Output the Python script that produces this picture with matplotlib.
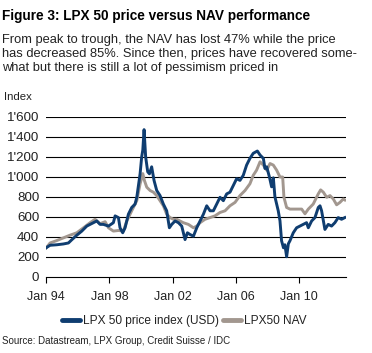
import matplotlib
matplotlib.use("Agg")
import matplotlib.pyplot as plt
from matplotlib.lines import Line2D

plt.rcParams["font.family"] = ["Liberation Sans", "DejaVu Sans"]

# decimal years, values
price_x = [1994.00, 1994.25, 1994.67, 1995.09, 1995.41, 1995.62, 1995.94, 1996.25,
           1996.57, 1996.78, 1997.20, 1997.41, 1997.62, 1997.94, 1998.25, 1998.36,
           1998.57, 1998.67, 1998.84, 1998.99, 1999.20, 1999.41, 1999.62, 1999.73,
           1999.94, 2000.04, 2000.11, 2000.19, 2000.29, 2000.42, 2000.53, 2000.67,
           2000.82, 2000.99, 2001.20, 2001.41, 2001.62, 2001.79, 2001.94, 2002.15,
           2002.36, 2002.57, 2002.78, 2002.93, 2003.09, 2003.31, 2003.52, 2003.73,
           2003.94, 2004.15, 2004.36, 2004.57, 2004.78, 2004.99, 2005.20, 2005.41,
           2005.62, 2005.83, 2006.04, 2006.25, 2006.46, 2006.67, 2006.88, 2007.09,
           2007.35, 2007.52, 2007.73, 2007.83, 2007.94, 2008.11, 2008.25, 2008.36,
           2008.46, 2008.67, 2008.78, 2008.88, 2009.00, 2009.09, 2009.20, 2009.31,
           2009.41, 2009.62, 2009.83, 2010.04, 2010.25, 2010.46, 2010.57, 2010.78,
           2010.99, 2011.20, 2011.31, 2011.41, 2011.62, 2011.83, 2012.04, 2012.25,
           2012.46, 2012.67, 2012.88]
price_y = [290, 315, 320, 328, 338, 370, 416, 456,
           507, 524, 558, 524, 524, 507, 541, 609,
           592, 490, 440, 490, 626, 693, 727, 795,
           1032, 1200, 1268, 1472, 1200, 1050, 1030, 1100,
           964, 863, 812, 727, 660, 490, 524, 558,
           541, 507, 372, 440, 423, 406, 490, 558,
           626, 710, 660, 660, 727, 795, 761, 829,
           846, 913, 981, 964, 1015, 1117, 1184, 1235,
           1258, 1218, 1184, 1083, 1100, 1000, 900, 990,
           800, 660, 560, 360, 290, 320, 200, 330,
           360, 440, 490, 507, 524, 541, 490, 558,
           592, 693, 710, 660, 473, 524, 507, 541,
           592, 575, 592]

nav_x = [1994.00, 1994.25, 1994.67, 1995.09, 1995.51, 1995.94, 1996.36, 1996.78,
         1997.09, 1997.41, 1997.73, 1997.94, 1998.25, 1998.57, 1998.88, 1999.10,
         1999.41, 1999.73, 1999.94, 2000.11, 2000.21, 2000.36, 2000.57, 2000.78,
         2000.99, 2001.20, 2001.41, 2001.62, 2001.83, 2002.04, 2002.25, 2002.46,
         2002.67, 2002.99, 2003.31, 2003.52, 2003.73, 2004.04, 2004.36, 2004.67,
         2004.99, 2005.31, 2005.62, 2005.94, 2006.25, 2006.57, 2006.88, 2007.09,
         2007.30, 2007.52, 2007.73, 2007.94, 2008.15, 2008.36, 2008.57, 2008.78,
         2008.95, 2009.03, 2009.20, 2009.41, 2009.83, 2010.15, 2010.36, 2010.57,
         2010.88, 2011.20, 2011.35, 2011.52, 2011.73, 2011.94, 2012.15, 2012.36,
         2012.57, 2012.78, 2012.88]
nav_y = [288, 338, 362, 389, 416, 440, 490, 541,
         575, 531, 551, 490, 457, 463, 457, 558,
         660, 761, 930, 1032, 964, 896, 863, 846,
         812, 761, 710, 626, 592, 575, 575, 558,
         541, 524, 490, 507, 541, 575, 592, 609,
         643, 660, 710, 744, 812, 863, 930, 1015,
         1066, 1150, 1117, 1066, 1133, 1117, 1066, 998,
         998, 795, 693, 677, 677, 677, 630, 677,
         727, 829, 869, 846, 795, 812, 778, 720,
         744, 778, 768]

y_ticks = [0, 200, 400, 600, 800, 1000, 1200, 1400, 1600]
y_labels = ["0", "200", "400", "600", "800", "1'000", "1'200", "1'400", "1'600"]
x_ticks = [1994, 1998, 2002, 2006, 2010]
x_labels = ["Jan 94", "Jan 98", "Jan 02", "Jan 06", "Jan 10"]

blue = "#0f3d70"
grey = "#a2978f"
txt = "#222222"

fig = plt.figure(figsize=(3.72, 3.53), dpi=100)
ax = fig.add_axes([0.124, 0.216, 0.806, 0.453])

ax.plot(nav_x, nav_y, color=grey, lw=2.1, zorder=3)
ax.plot(price_x, price_y, color=blue, lw=2.1, zorder=4)

ax.set_xlim(1994, 2012.95)
ax.set_ylim(0, 1600)
ax.set_yticks(y_ticks)
ax.set_yticklabels(y_labels)
ax.set_xticks(x_ticks)
ax.set_xticklabels(x_labels)
for v in y_ticks[1:]:
    ax.axhline(v, color="black", lw=0.8, zorder=1)

for s in ["top", "right", "left"]:
    ax.spines[s].set_visible(False)
ax.spines["bottom"].set_linewidth(0.8)
ax.tick_params(axis="y", length=0, pad=5, labelsize=9.6, labelcolor=txt)
ax.tick_params(axis="x", length=4, width=0.8, direction="out", pad=6,
               labelsize=9.0, labelcolor=txt)

fig.text(0.006, 0.955, "Figure 3: LPX 50 price versus NAV performance",
         fontsize=9.8, fontweight="bold", color="black", va="center")
fig.text(0.006, 0.846,
         "From peak to trough, the NAV has lost 47% while the price\n"
         "has decreased 85%. Since then, prices have recovered some-\n"
         "what but there is still a lot of pessimism priced in",
         fontsize=9.3, color=txt, va="center", linespacing=1.22)
fig.text(0.012, 0.725, "Index", fontsize=8.2, color=txt, va="center")

handles = [Line2D([], [], color=blue, lw=3.5, solid_capstyle="round"),
           Line2D([], [], color=grey, lw=3.5, solid_capstyle="round")]
fig.legend(handles, ["LPX 50 price index (USD)", "LPX50 NAV"],
           loc="center", bbox_to_anchor=(0.495, 0.09), ncol=2, frameon=False,
           fontsize=8.6, handlelength=1.5, handletextpad=0.2, columnspacing=0.4,
           labelcolor=txt)

fig.text(0.005, 0.035, "Source: Datastream, LPX Group, Credit Suisse / IDC",
         fontsize=7.0, color=txt, va="center")

fig.savefig("out.png", dpi=100)
